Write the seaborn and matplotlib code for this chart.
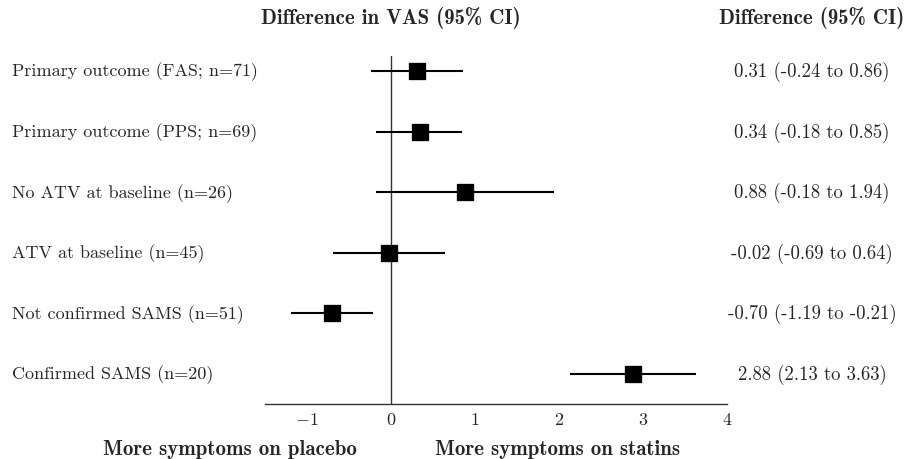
import numpy as np
import pandas as pd
import matplotlib
matplotlib.use('Agg')
import matplotlib.pyplot as plt
import matplotlib.transforms as mtransforms
import seaborn as sns

# data
labels = ['Primary outcome (FAS; n=71)', 'Primary outcome (PPS; n=69)',
          'No ATV at baseline (n=26)', 'ATV at baseline (n=45)',
          'Not confirmed SAMS (n=51)', 'Confirmed SAMS (n=20)']
estimates = [0.31, 0.34, 0.88, -0.02, -0.70, 2.88]
lower = [-0.24, -0.18, -0.18, -0.69, -1.19, 2.13]
upper = [0.86, 0.85, 1.94, 0.64, -0.21, 3.63]
x_ticks = [-1, 0, 1, 2, 3, 4]

sns.set_style('white')
plt.rcParams['font.family'] = ['cmr10', 'DejaVu Serif']
plt.rcParams['axes.formatter.use_mathtext'] = True
plt.rcParams['mathtext.fontset'] = 'cm'

df = pd.DataFrame({'label': labels, 'est': estimates, 'lo': lower, 'hi': upper})
df['row'] = np.arange(1, len(df) + 1)

fig = plt.figure(figsize=(9.08, 4.6), dpi=100)
ax = fig.add_axes([265 / 908, 55 / 460, 462 / 908, 348 / 460])

# confidence intervals, zero line and point estimates
ax.hlines(df['row'], df['lo'], df['hi'], color='black', linewidth=1.5, zorder=2)
ax.axvline(0, color='#333333', linewidth=1.0, zorder=1)
sns.scatterplot(data=df, x='est', y='row', marker='s', s=140, color='black',
                edgecolor='black', ax=ax, zorder=3, legend=False)

ax.set_xlim(-1.5, 4.0)
ax.set_ylim(6.5, 0.75)
ax.set_xticks(x_ticks)
ax.set_yticks([])
ax.set_xlabel('')
ax.set_ylabel('')
for s in ['top', 'right', 'left']:
    ax.spines[s].set_visible(False)
ax.spines['bottom'].set_color('#333333')
ax.spines['bottom'].set_linewidth(1.0)
ax.tick_params(axis='x', direction='in', length=5, width=1.0, color='#333333',
               labelsize=13, pad=5)

# row labels and CI text
blend = mtransforms.blended_transform_factory(fig.transFigure, ax.transData)
for r, lab in zip(df['row'], df['label']):
    fig.text(12 / 908, r, lab, fontsize=13, ha='left', va='center', transform=blend)
for r, e, lo, hi in zip(df['row'], df['est'], df['lo'], df['hi']):
    fig.text(812 / 908, r, f'{e:.2f} ({lo:.2f} to {hi:.2f})', fontsize=13.5,
             ha='center', va='center', transform=blend)

bold = ['cmb10', 'DejaVu Serif']
fig.text(391 / 908, 1 - 18 / 460, 'Difference in VAS (95% CI)', fontsize=15,
         ha='center', va='center', family=bold)
fig.text(812 / 908, 1 - 18 / 460, 'Difference (95% CI)', fontsize=15,
         ha='center', va='center', family=bold)
fig.text(230 / 908, 1 - 450 / 460, 'More symptoms on placebo', fontsize=15,
         ha='center', va='center', family=bold)
fig.text(558 / 908, 1 - 450 / 460, 'More symptoms on statins', fontsize=15,
         ha='center', va='center', family=bold)

fig.savefig('out.png', dpi=100, facecolor='white')
